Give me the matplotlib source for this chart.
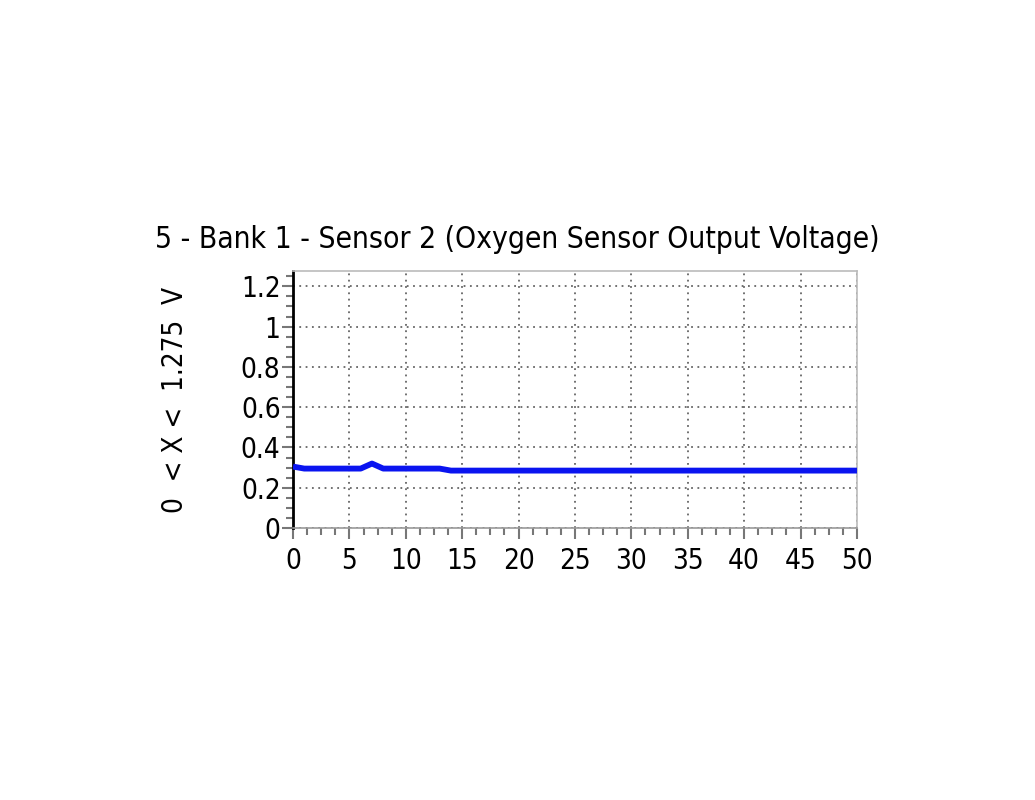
import matplotlib
matplotlib.use("Agg")
import matplotlib.pyplot as plt
from matplotlib.ticker import MultipleLocator, FuncFormatter

x_values = list(range(0, 51))
y_values = [0.305, 0.295, 0.295, 0.295, 0.295, 0.295, 0.295, 0.32,
            0.295, 0.295, 0.295, 0.295, 0.295, 0.295] + [0.285] * 37

title = "5 - Bank 1 - Sensor 2 (Oxygen Sensor Output Voltage)"
ylabel = "0  < X <  1.275  V"

plt.rcParams['font.family'] = ['DejaVu Sans']
plt.rcParams['font.stretch'] = 'condensed'
fig = plt.figure(figsize=(10.35, 8), dpi=100)
ax = fig.add_axes([0.2831, 0.34, 0.5449, 0.321])

ax.plot(x_values, y_values, color='#0a14f0', lw=4.2, solid_capstyle='butt', zorder=3)
ax.set_xlim(0, 50)
ax.set_ylim(0, 1.275)

ax.xaxis.set_major_locator(MultipleLocator(5))
ax.xaxis.set_minor_locator(MultipleLocator(1.25))
ax.yaxis.set_major_locator(MultipleLocator(0.2))
ax.yaxis.set_minor_locator(MultipleLocator(0.05))
ax.yaxis.set_major_formatter(FuncFormatter(lambda v, p: f"{v:.1f}".rstrip('0').rstrip('.') if v != 0 else "0"))

ax.grid(True, which='major', color='#666666', linestyle=(0, (1, 2.5)), lw=1.3)
ax.tick_params(which='major', direction='out', length=8, width=1.5, color='#777777',
               labelsize=20)
ax.tick_params(axis='x', which='major', pad=6)
ax.tick_params(axis='y', which='major', pad=1)
ax.tick_params(which='minor', direction='out', length=5, width=1.5, color='#777777')

for s in ['top', 'right']:
    ax.spines[s].set_color('#bbbbbb')
    ax.spines[s].set_linewidth(1.2)
ax.spines['bottom'].set_color('#999999')
ax.spines['bottom'].set_linewidth(1.2)
ax.spines['left'].set_color('black')
ax.spines['left'].set_linewidth(2)

fig.text(0.5, 1 - 248 / 800, title, fontsize=21.5, ha='center', va='baseline')
fig.text(175 / 1035, 1 - 400 / 800, ylabel, fontsize=20, rotation=90, ha='center', va='center')

fig.savefig("out.png", dpi=100)
